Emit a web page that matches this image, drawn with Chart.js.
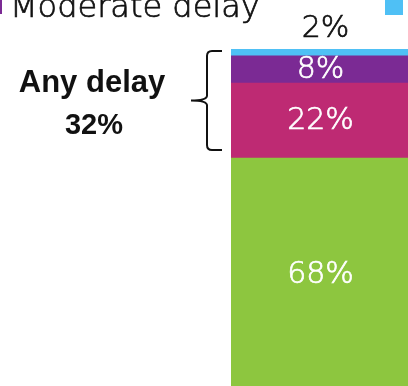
<!DOCTYPE html>
<html>
<head>
<meta charset="utf-8">
<script src="https://cdn.jsdelivr.net/npm/chart.js@4/dist/chart.umd.min.js"></script>
<style>
  html, body { margin: 0; padding: 0; background: #fff; overflow: hidden; width: 408px; height: 386px; }
  #wrap { position: absolute; left: 0; top: 0; width: 412px; height: 400px; }
</style>
</head>
<body>
<div id="wrap"><canvas id="c" width="412" height="400"></canvas></div>
<script>
// Share of children by level of delay (one stacked column)
const categories = ['All children'];
const seriesNames = ['No delay', 'Mild delay', 'Moderate delay', 'Severe delay'];
const noDelay = [68];
const mildDelay = [22];
const moderateDelay = [8];
const severeDelay = [2];
const seriesColors = ['#8DC63F', '#BE2A73', '#7B2A94', '#4FC0F5'];
const groupTitle = 'Any delay';
const groupValue = mildDelay[0] + moderateDelay[0] + severeDelay[0]; // 32
const yTicks = [0, 100];

const seriesData = [noDelay, mildDelay, moderateDelay, severeDelay];

const labelFont = '200 30px "DejaVu Sans", sans-serif';
const legendFont = '200 32px "DejaVu Sans", sans-serif';

// thin text, thickened a little with a matching outline
function lightText(ctx, text, x, y, color) {
  ctx.fillStyle = color;
  ctx.strokeStyle = color;
  ctx.lineWidth = 0.7;
  ctx.fillText(text, x, y);
  ctx.strokeText(text, x, y);
}

// Value labels: white inside the segment, black above the thin top segment
const valueLabels = {
  id: 'valueLabels',
  afterDatasetsDraw(chart) {
    const ctx = chart.ctx;
    ctx.save();
    ctx.font = labelFont;
    ctx.textAlign = 'center';
    chart.data.datasets.forEach((ds, i) => {
      const meta = chart.getDatasetMeta(i);
      meta.data.forEach((bar, j) => {
        const v = ds.data[j];
        const h = Math.abs(bar.base - bar.y);
        if (h >= 20) {
          ctx.textBaseline = 'middle';
          lightText(ctx, v + '%', bar.x, (bar.y + bar.base) / 2 + 1, '#ffffff');
        } else {
          ctx.textBaseline = 'alphabetic';
          lightText(ctx, v + '%', bar.x + 5, bar.y - 12, '#111111');
        }
      });
    });
    ctx.restore();
  }
};

// Legend row along the top edge, and the "Any delay" brace beside the column
const annotations = {
  id: 'annotations',
  afterDraw(chart) {
    const ctx = chart.ctx;
    const y = chart.scales.y;
    ctx.save();

    // legend entries
    ctx.font = legendFont;
    ctx.textBaseline = 'alphabetic';
    ctx.textAlign = 'left';
    const legendItems = [
      { idx: 2, x: -16, y: -4 },
      { idx: 3, x: 385, y: -3 }
    ];
    legendItems.forEach(it => {
      ctx.fillStyle = seriesColors[it.idx];
      ctx.fillRect(it.x, it.y, 18, 18);
      lightText(ctx, seriesNames[it.idx], it.x + 26, 17, '#111111');
    });

    // brace spanning the delayed segments
    const top = y.getPixelForValue(100) + 2;
    const bot = y.getPixelForValue(noDelay[0]) - 8;
    const mid = (top + bot) / 2;
    const xv = 207, xr = 222, xt = 191, r = 5;
    ctx.strokeStyle = '#111111';
    ctx.lineWidth = 2;
    ctx.beginPath();
    ctx.moveTo(xr, top);
    ctx.lineTo(xv + r, top);
    ctx.quadraticCurveTo(xv, top, xv, top + r);
    ctx.lineTo(xv, mid - r);
    ctx.quadraticCurveTo(xv, mid, xt, mid);
    ctx.quadraticCurveTo(xv, mid, xv, mid + r);
    ctx.lineTo(xv, bot - r);
    ctx.quadraticCurveTo(xv, bot, xv + r, bot);
    ctx.lineTo(xr, bot);
    ctx.stroke();

    // group caption
    ctx.fillStyle = '#111111';
    ctx.textAlign = 'center';
    ctx.font = 'bold 31px "Liberation Sans", Arial, sans-serif';
    ctx.fillText(groupTitle, 92, 92);
    ctx.font = 'bold 29px "Liberation Sans", Arial, sans-serif';
    ctx.fillText(groupValue + '%', 94, 134);

    ctx.restore();
  }
};

new Chart(document.getElementById('c'), {
  type: 'bar',
  data: {
    labels: categories,
    datasets: seriesNames.map((name, i) => ({
      label: name,
      data: seriesData[i],
      backgroundColor: seriesColors[i],
      borderWidth: 0,
      barPercentage: 1,
      categoryPercentage: 1
    }))
  },
  options: {
    responsive: false,
    animation: false,
    devicePixelRatio: 1,
    layout: { padding: { left: 231, right: 2, top: 49, bottom: 10 } },
    plugins: { legend: { display: false }, tooltip: { enabled: false } },
    scales: {
      x: { stacked: true, display: false },
      y: { stacked: true, display: false, min: yTicks[0], max: yTicks[1] }
    }
  },
  plugins: [valueLabels, annotations]
});
</script>
</body>
</html>
